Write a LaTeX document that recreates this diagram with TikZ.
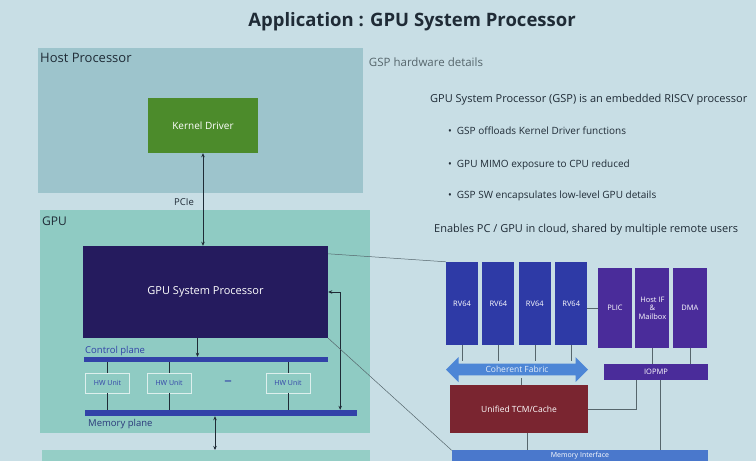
\documentclass[tikz,border=0pt]{standalone}
\usepackage{fontspec}
\setmainfont{Open Sans}
\usetikzlibrary{positioning,arrows.meta,calc,shapes.arrows}

\definecolor{slidebg}{HTML}{C8DEE5}
\definecolor{hostfill}{HTML}{9DC4CC}
\definecolor{gpufill}{HTML}{8FCBC3}
\definecolor{kgreen}{HTML}{4C8B2B}
\definecolor{gspnavy}{HTML}{251B5E}
\definecolor{barblue}{HTML}{3242A8}
\definecolor{rvblue}{HTML}{2E3AA6}
\definecolor{ppurple}{HTML}{4A2C9A}
\definecolor{fabblue}{HTML}{4D86D6}
\definecolor{tcmred}{HTML}{7A2530}
\definecolor{mifblue}{HTML}{4A78CC}
\definecolor{txtdark}{HTML}{1F2B36}
\definecolor{linegray}{HTML}{56666C}

\begin{document}
\begin{tikzpicture}[x=1pt, y=-1pt,
  area/.style={inner sep=0pt, anchor=north west},
  box/.style={inner sep=0pt, align=center, text=white, font=\fontsize{7.5}{8.5}\selectfont},
  rv/.style={box, fill=rvblue, minimum width=32pt, minimum height=83pt},
  pu/.style={box, fill=ppurple, minimum width=34pt, minimum height=80pt},
  hw/.style={draw=white!70!gpufill, line width=0.6pt, fill=gpufill, text=barblue, inner sep=0pt,
    font=\fontsize{7}{8}\selectfont, minimum width=44pt, minimum height=20pt},
  bar/.style={fill=barblue, inner sep=0pt},
  lbl/.style={inner sep=0pt, anchor=west, text=txtdark},
  arr/.style={-{Stealth[length=4pt, width=3.5pt]}, line width=0.9pt, draw=txtdark},
  darr/.style={{Stealth[length=4pt, width=3.5pt]}-{Stealth[length=4pt, width=3.5pt]}, line width=0.9pt, draw=txtdark},
  lnk/.style={line width=0.9pt, draw=txtdark},
  thin/.style={line width=0.5pt, draw=linegray}
]
\fill[slidebg] (0,0) rectangle (756,461);
\clip (0,0) rectangle (756,461);

% title
\node[inner sep=0pt, text=txtdark, font=\fontsize{18.5}{22}\selectfont\bfseries] (title) at (412,22) {Application : GPU System Processor};
\node[inner sep=0pt, text=linegray, font=\fontsize{11.5}{13}\selectfont] (sub) at (426,62) {GSP hardware details};

% left: host and gpu
\node[area, fill=hostfill, minimum width=325pt, minimum height=145pt] (host) at (38,48) {};
\node[lbl, font=\fontsize{13}{15}\selectfont, anchor=north west] (hostlbl) at (40,53) {Host Processor};
\node[box, fill=kgreen, minimum width=110pt, minimum height=55pt, font=\fontsize{10}{12}\selectfont] (kdrv) at (203,125.5) {Kernel Driver};
\node[lbl, font=\fontsize{9.5}{11}\selectfont] (pcie) at (174,202) {PCIe};

\node[area, fill=gpufill, minimum width=330pt, minimum height=223pt] (gpu) at (40,210) {};
\node[lbl, font=\fontsize{12}{14}\selectfont, anchor=north west] (gpulbl) at (42,217) {GPU};
\node[box, fill=gspnavy, minimum width=245pt, minimum height=92pt, font=\fontsize{11}{13}\selectfont] (gsp) at (205.5,292) {GPU System Processor};

\node[bar, minimum width=244pt, minimum height=5pt] (ctrl) at (206,359.5) {};
\node[lbl, text=barblue, font=\fontsize{9.5}{11}\selectfont, anchor=south west] (ctrllbl) at (85,356) {Control plane};
\node[hw] (hw1) at (107.5,383) {HW Unit};
\node[hw, right=17pt of hw1] (hw2) {HW Unit};
\node[hw] (hw3) at (288,383) {HW Unit};
\node[text=barblue, inner sep=0pt, font=\fontsize{15}{16}\selectfont] (dots) at (228,383) {--};
\node[bar, minimum width=272pt, minimum height=6pt] (mem) at (221,413) {};
\node[lbl, text=barblue!60!txtdark, font=\fontsize{9.5}{11}\selectfont, anchor=north west] (memlbl) at (88,419) {Memory plane};
\node[area, fill=gpufill!95!white, minimum width=328pt, minimum height=30pt] (lower) at (42,450) {};

\draw[darr] (kdrv.south) -- (kdrv.south |- gsp.north);
\draw[arr] ([xshift=-8pt]gsp.south) -- ([xshift=-8pt]gsp.south |- ctrl.north);
\draw[darr] (gsp.east) -| ([xshift=-17pt]mem.north east);
\draw[lnk] (hw1.north) -- (hw1.north |- ctrl.south);
\draw[lnk] (hw2.north) -- (hw2.north |- ctrl.south);
\draw[lnk] (hw3.north) -- (hw3.north |- ctrl.south);
\draw[lnk] (hw1.south) -- (hw1.south |- mem.north);
\draw[lnk] (hw2.south) -- (hw2.south |- mem.north);
\draw[lnk] (hw3.south) -- (hw3.south |- mem.north);
\draw[darr] ([xshift=-6pt]mem.south) -- ([xshift=-6pt]mem.south |- lower.north);

% right: text
\node[lbl, font=\fontsize{11}{13}\selectfont] (intro) at (430,100) {GPU System Processor (GSP) is an embedded RISCV processor};
\node[lbl, font=\fontsize{10}{12}\selectfont] (b1) at (448,131) {•\hspace{5pt}GSP offloads Kernel Driver functions};
\node[lbl, font=\fontsize{10}{12}\selectfont] (b2) at (448,165) {•\hspace{5pt}GPU MIMO exposure to CPU reduced};
\node[lbl, font=\fontsize{10}{12}\selectfont] (b3) at (448,196) {•\hspace{5pt}GSP SW encapsulates low-level GPU details};
\node[lbl, font=\fontsize{11}{13}\selectfont] (cloud) at (434,230) {Enables PC / GPU in cloud, shared by multiple remote users};

% right: gsp detail
\node[rv] (rv1) at (462,303.5) {RV64};
\node[rv, right=4pt of rv1] (rv2) {RV64};
\node[rv, right=4pt of rv2] (rv3) {RV64};
\node[rv, right=4pt of rv3] (rv4) {RV64};
\node[pu] (plic) at (615,308) {PLIC};
\node[pu, right=3pt of plic] (hostif) {Host IF\\\&\\Mailbox};
\node[pu, right=3pt of hostif] (dma) {DMA};
\node[double arrow, fill=fabblue, inner sep=0pt, minimum width=25pt, minimum height=142pt,
  double arrow head extend=4pt, text=white!85!fabblue, font=\fontsize{8.5}{10}\selectfont] (fab) at (517,369.5) {Coherent Fabric};
\coordinate (fabtop) at (517,361);
\coordinate (fabbot) at (517,378);
\node[box, fill=ppurple, minimum width=104pt, minimum height=16pt] (iopmp) at (656,372) {IOPMP};
\node[box, fill=tcmred, minimum width=138pt, minimum height=48pt, font=\fontsize{8.5}{10}\selectfont] (tcm) at (519,409) {Unified TCM/Cache};
\node[box, fill=mifblue, minimum width=256pt, minimum height=11pt, anchor=north, font=\fontsize{7}{8}\selectfont] (memif) at (580,450) {Memory Interface};

\draw[thin] (plic.west -| rv4.east) -- (plic.west);
\draw[thin] (rv1.south) -- (rv1.south |- fabtop);
\draw[thin] (rv2.south) -- (rv2.south |- fabtop);
\draw[thin] (rv3.south) -- (rv3.south |- fabtop);
\draw[thin] (rv4.south) -- (rv4.south |- fabtop);
\draw[thin] (hostif.south) -- (hostif.south |- iopmp.north);
\draw[thin] (dma.south) -- (dma.south |- iopmp.north);
\draw[thin] ([xshift=4pt]fabbot) -- ([xshift=4pt]fabbot |- tcm.north);
\draw[thin] (tcm.east) -| ([xshift=-20pt]iopmp.south);
\draw[thin] ([xshift=4pt]iopmp.south) -- ([xshift=4pt]iopmp.south |- memif.north);
\draw[thin] ([xshift=8pt]tcm.south) -- ([xshift=8pt]tcm.south |- memif.north);

% callout
\draw[thin] ([yshift=-8pt]gsp.north east) -- (rv1.north west);
\draw[thin] (gsp.south east) -- ([yshift=11pt]memif.south west);
\end{tikzpicture}
\end{document}
